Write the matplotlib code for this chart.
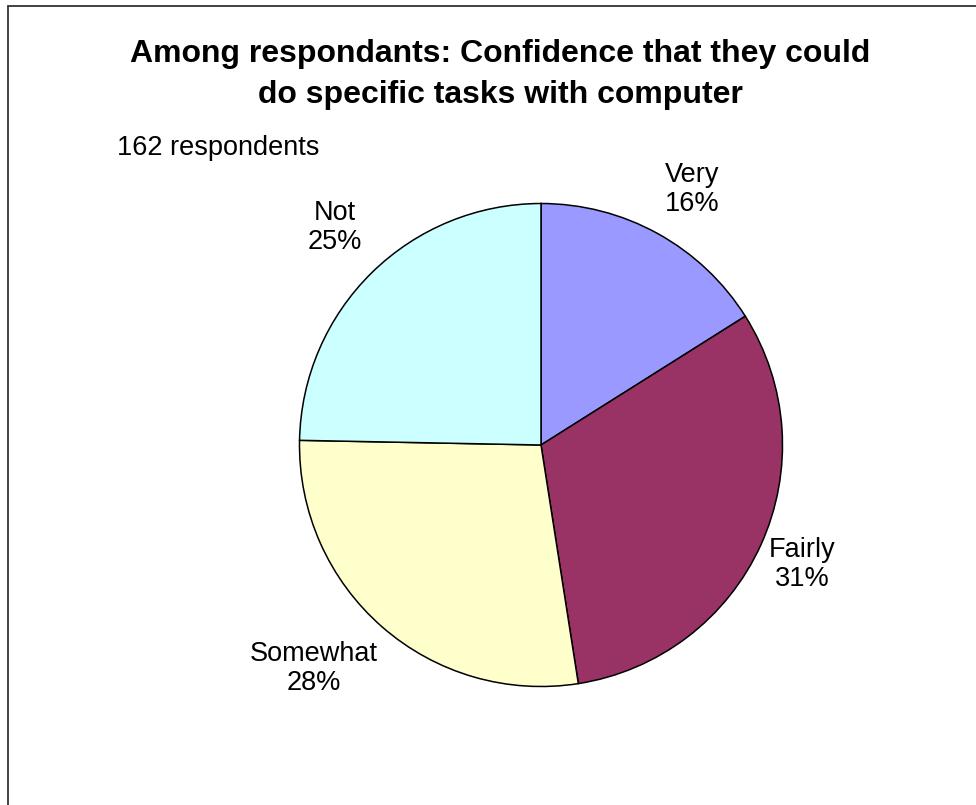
import numpy as np
import matplotlib
matplotlib.use('Agg')
import matplotlib.pyplot as plt
from matplotlib.patches import Rectangle

plt.rcParams['font.family'] = ['Liberation Sans', 'DejaVu Sans']

categories = ['Very', 'Fairly', 'Somewhat', 'Not']
counts = [26, 51, 45, 40]          # 162 respondents
colors = ['#9999FF', '#993366', '#FFFFCC', '#CCFFFF']
title_lines = ['Among respondants: Confidence that they could',
               'do specific tasks with computer']
note = '162 respondents'

# label placement (distance in radii, angle nudge in degrees, clockwise)
label_dist = [1.23, 1.19, 1.32, 1.24]
label_nudge = [1.8, 0.2, 4.3, 0.9]

W, H = 976, 805
fig = plt.figure(figsize=(W / 100, H / 100), dpi=100)
fig.patch.set_facecolor('white')

# outer chart frame (runs off the right and bottom edges)
fig.add_artist(Rectangle((8 / W, -0.05), 1.2, (H - 6) / H + 0.05,
                         transform=fig.transFigure, fill=False,
                         ec='#333333', lw=1.3))

# pie axes: centre at (541, 445) px, radius 241.5 px
cx, cy, R = 541, 445, 241.5
half = 320
ax = fig.add_axes([(cx - half) / W, (H - cy - half) / H, 2 * half / W, 2 * half / H])
lim = half / R

wedges, _ = ax.pie(counts, colors=colors, startangle=90, counterclock=False,
                   radius=1, wedgeprops=dict(edgecolor='black', linewidth=1.1))
ax.set_xlim(-lim, lim)
ax.set_ylim(-lim, lim)
ax.set_aspect('equal')
ax.axis('off')

total = sum(counts)
for w, name, n, d, nudge in zip(wedges, categories, counts, label_dist, label_nudge):
    mid = np.deg2rad((w.theta1 + w.theta2) / 2 - nudge)
    ax.text(d * np.cos(mid), d * np.sin(mid), f'{name}\n{round(100 * n / total)}%',
            ha='center', va='center', fontsize=19.5, linespacing=1.15)

# title, two lines with baselines 41 px apart
for i, line in enumerate(title_lines):
    fig.text(500 / W, (H - 62 - 41 * i) / H, line, ha='center', va='baseline',
             fontsize=23, fontweight='bold')
fig.text(117 / W, (H - 155) / H, note, ha='left', va='baseline', fontsize=19.5)

fig.savefig('out.png', dpi=100)
